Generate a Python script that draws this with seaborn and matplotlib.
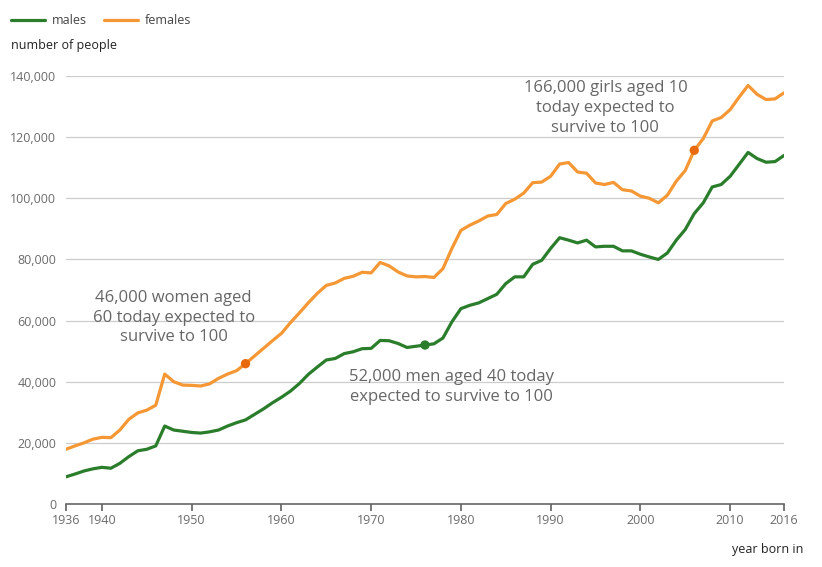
import pandas as pd
import matplotlib
matplotlib.use('Agg')
import matplotlib.pyplot as plt
import seaborn as sns
from matplotlib.ticker import FuncFormatter

# data (number of people expected to reach 100, by year born)
years = list(range(1936, 2017))
males = [8.9, 9.8, 10.8, 11.5, 12.0, 11.7, 13.3, 15.5, 17.4, 17.9,
         19.0, 25.5, 24.2, 23.8, 23.4, 23.2, 23.6, 24.2, 25.5, 26.6,
         27.5, 29.3, 31.1, 33.1, 34.9, 36.9, 39.4, 42.4, 44.8, 47.1,
         47.6, 49.2, 49.8, 50.8, 50.9, 53.5, 53.4, 52.5, 51.2, 51.6,
         52.0, 52.4, 54.3, 59.6, 63.9, 65.0, 65.8, 67.2, 68.6, 72.1,
         74.3, 74.3, 78.4, 79.7, 83.6, 87.1, 86.3, 85.4, 86.3, 84.1,
         84.3, 84.3, 82.8, 82.8, 81.7, 80.8, 80.0, 82.1, 86.3, 89.8,
         95.0, 98.5, 103.7, 104.5, 107.2, 111.1, 115.0, 113.0, 111.8, 112.0,
         114.0]
females = [17.9, 19.0, 20.0, 21.2, 21.8, 21.7, 24.2, 27.7, 29.8, 30.7,
           32.3, 42.5, 40.0, 38.9, 38.8, 38.6, 39.3, 41.1, 42.5, 43.6,
           45.9, 48.4, 50.9, 53.4, 55.8, 59.3, 62.5, 65.8, 68.9, 71.5,
           72.3, 73.8, 74.5, 75.8, 75.6, 79.0, 77.9, 75.9, 74.6, 74.3,
           74.4, 74.1, 77.0, 83.6, 89.5, 91.2, 92.6, 94.2, 94.7, 98.3,
           99.7, 101.7, 105.1, 105.3, 107.2, 111.2, 111.7, 108.6, 108.2, 105.0,
           104.5, 105.2, 102.8, 102.4, 100.7, 100.0, 98.5, 101.0, 105.6, 109.1,
           115.7, 119.5, 125.3, 126.4, 129.0, 133.1, 136.9, 134.0, 132.3, 132.5,
           134.5]

highlight_year = [1956, 1976, 2006]
highlight_sex = ['females', 'males', 'females']
highlight_val = [45.9, 52.0, 115.7]

xticks = [1936, 1940, 1950, 1960, 1970, 1980, 1990, 2000, 2010, 2016]

df = pd.DataFrame({
    'year': years * 2,
    'people': [v * 1000 for v in males + females],
    'sex': ['males'] * len(years) + ['females'] * len(years),
})
dots = pd.DataFrame({'year': highlight_year,
                     'people': [v * 1000 for v in highlight_val],
                     'sex': highlight_sex})

sns.set_theme(style='white')
plt.rcParams['font.family'] = ['Open Sans', 'DejaVu Sans']

green = '#2a7d2a'
orange = '#f59734'
dot_colors = {'males': green, 'females': '#e86a0c'}

fig = plt.figure(figsize=(8.22, 5.67), dpi=100)
ax = fig.add_axes([66 / 822, 1 - 504 / 567, 718 / 822, 428 / 567])

sns.lineplot(data=df, x='year', y='people', hue='sex',
             palette={'males': green, 'females': orange},
             linewidth=2.3, ax=ax, legend=False, zorder=3)
sns.scatterplot(data=dots, x='year', y='people', hue='sex', palette=dot_colors,
                s=45, edgecolor='none', ax=ax, legend=False, zorder=4)

ax.set_xlim(1936, 2016)
ax.set_ylim(0, 140000)
ax.set_yticks(range(0, 140001, 20000))
ax.yaxis.set_major_formatter(FuncFormatter(lambda v, p: f'{int(v):,}'))
ax.set_xticks(xticks)
ax.grid(axis='y', color='#cccccc', linewidth=0.9)
ax.set_axisbelow(True)
for s in ['top', 'right', 'left']:
    ax.spines[s].set_visible(False)
ax.spines['bottom'].set_color('#666666')
ax.spines['bottom'].set_linewidth(1.2)
ax.spines['bottom'].set_zorder(5)
ax.tick_params(axis='y', length=5, color='#cccccc', labelsize=9, labelcolor='#6b6b6b', pad=2)
ax.tick_params(axis='x', length=5, color='#666666', labelsize=9, labelcolor='#6b6b6b', pad=2,
               bottom=True)
ax.set_xlabel('')
ax.set_ylabel('')

# legend and axis titles
fig.add_artist(plt.Line2D([11 / 822, 45 / 822], [1 - 20 / 567] * 2, color=green, linewidth=2.3))
fig.text(52 / 822, 1 - 20 / 567, 'males', fontsize=9, color='#444444', va='center')
fig.add_artist(plt.Line2D([104 / 822, 138 / 822], [1 - 20 / 567] * 2, color=orange, linewidth=2.3))
fig.text(145 / 822, 1 - 20 / 567, 'females', fontsize=9, color='#444444', va='center')
fig.text(11 / 822, 1 - 45 / 567, 'number of people', fontsize=9, color='#222222', va='center')
fig.text(803 / 822, 1 - 549 / 567, 'year born in', fontsize=9, color='#222222', va='center', ha='right')

# annotations
note = dict(fontsize=12, color='#666666', ha='center', va='center', linespacing=1.3)
ax.text(1948.0, 61000, '46,000 women aged\n60 today expected to\nsurvive to 100', **note)
ax.text(1979.0, 38200, '52,000 men aged 40 today\nexpected to survive to 100', **note)
ax.text(1996.1, 129500, '166,000 girls aged 10\ntoday expected to\nsurvive to 100', **note)

fig.savefig('out.png', dpi=100)
